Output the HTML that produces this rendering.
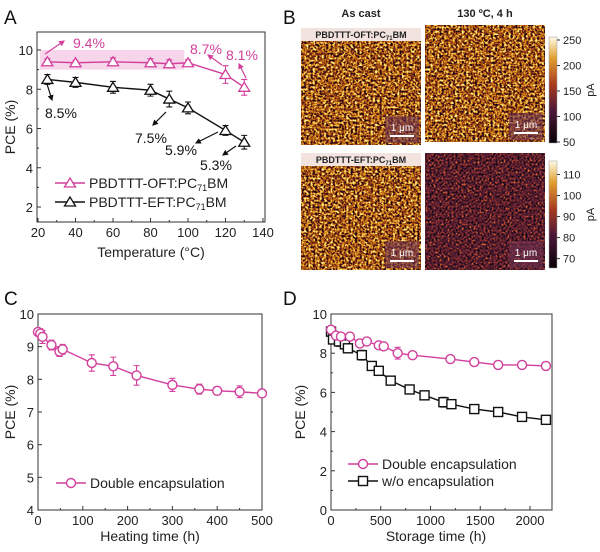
<!DOCTYPE html>
<html><head><meta charset="utf-8"><style>
body{margin:0;background:#fff}
svg{display:block;font-family:"Liberation Sans",Arial,sans-serif}
</style></head><body>
<svg id="fig" width="600" height="552" viewBox="0 0 600 552">
<defs>
<filter id="afmA" x="0" y="0" width="100%" height="100%" color-interpolation-filters="sRGB">
<feTurbulence type="fractalNoise" baseFrequency="0.45" numOctaves="2" seed="3"/>
<feColorMatrix type="matrix" values="0 0 0 0 0  0 0 0 0 0  0 0 0 0 0  0.33 0.33 0.33 0 0"/>
<feColorMatrix type="matrix" values="0 0 0 1 0  0 0 0 1 0  0 0 0 1 0  0 0 0 0 1"/>
<feComponentTransfer>
<feFuncR type="linear" slope="4" intercept="-1.5"/>
<feFuncG type="linear" slope="4" intercept="-1.5"/>
<feFuncB type="linear" slope="4" intercept="-1.5"/>
</feComponentTransfer>
<feComponentTransfer>
<feFuncR type="table" tableValues="0.08 0.3 0.6 0.8 0.92 1"/>
<feFuncG type="table" tableValues="0.02 0.08 0.25 0.48 0.72 0.95"/>
<feFuncB type="table" tableValues="0.08 0.1 0.08 0.08 0.2 0.6"/>
</feComponentTransfer>
</filter>
<filter id="afmB" x="0" y="0" width="100%" height="100%" color-interpolation-filters="sRGB">
<feTurbulence type="fractalNoise" baseFrequency="0.5" numOctaves="2" seed="7"/>
<feColorMatrix type="matrix" values="0 0 0 0 0  0 0 0 0 0  0 0 0 0 0  0.33 0.33 0.33 0 0"/>
<feColorMatrix type="matrix" values="0 0 0 1 0  0 0 0 1 0  0 0 0 1 0  0 0 0 0 1"/>
<feComponentTransfer>
<feFuncR type="linear" slope="4" intercept="-1.6"/>
<feFuncG type="linear" slope="4" intercept="-1.6"/>
<feFuncB type="linear" slope="4" intercept="-1.6"/>
</feComponentTransfer>
<feComponentTransfer>
<feFuncR type="table" tableValues="0.08 0.22 0.36 0.5 0.65 0.85"/>
<feFuncG type="table" tableValues="0.03 0.08 0.12 0.16 0.25 0.45"/>
<feFuncB type="table" tableValues="0.08 0.16 0.2 0.18 0.15 0.2"/>
</feComponentTransfer>
</filter>
<linearGradient id="cbar" x1="0" y1="1" x2="0" y2="0">
<stop offset="0" stop-color="#0a0208"/><stop offset="0.3" stop-color="#4a1838"/>
<stop offset="0.55" stop-color="#a83a20"/><stop offset="0.8" stop-color="#e0a030"/>
<stop offset="1" stop-color="#fffbe8"/></linearGradient>
<marker id="arP" viewBox="0 0 10 10" refX="8" refY="5" markerWidth="5" markerHeight="5" orient="auto"><path d="M0,0L10,5L0,10z" fill="#d23f9c"/></marker>
<marker id="arK" viewBox="0 0 10 10" refX="8" refY="5" markerWidth="5" markerHeight="5" orient="auto"><path d="M0,0L10,5L0,10z" fill="#111"/></marker>
</defs>
<g id="root"></g>
</svg>
<script>
// ---- Panel A data ----
const aTemps = [25, 40, 60, 80, 90, 100, 120, 130];
const aOFT = [9.4, 9.35, 9.4, 9.35, 9.3, 9.35, 8.75, 8.1];
const aOFTerr = [0.15, 0.1, 0.2, 0.2, 0.2, 0.15, 0.45, 0.4];
const aEFT = [8.5, 8.35, 8.1, 7.95, 7.5, 7.05, 5.9, 5.3];
const aEFTerr = [0.25, 0.25, 0.3, 0.3, 0.4, 0.3, 0.25, 0.35];
const aXTicks = [20, 40, 60, 80, 100, 120, 140];
const aYTicks = [2, 4, 6, 8, 10];
// ---- Panel C data ----
const cTimes = [0, 5, 10, 30, 48, 55, 120, 168, 220, 300, 360, 400, 450, 500];
const cPCE = [9.45, 9.4, 9.3, 9.05, 8.85, 8.92, 8.5, 8.4, 8.12, 7.83, 7.7, 7.65, 7.62, 7.57];
const cErr = [0.1, 0.15, 0.2, 0.15, 0.15, 0.15, 0.25, 0.28, 0.3, 0.2, 0.15, 0.12, 0.18, 0.12];
const cXTicks = [0, 100, 200, 300, 400, 500];
const cYTicks = [4, 5, 6, 7, 8, 9, 10];
// ---- Panel D data ----
const dTimesP = [0, 50, 100, 190, 290, 360, 480, 530, 670, 820, 1200, 1440, 1680, 1920, 2160];
const dPCEP = [9.2, 8.9, 8.85, 8.85, 8.5, 8.6, 8.4, 8.35, 8.0, 7.9, 7.7, 7.55, 7.4, 7.4, 7.35];
const dErrP = [0.15, 0.12, 0.1, 0.15, 0.1, 0.12, 0.1, 0.1, 0.3, 0.12, 0.15, 0.12, 0.2, 0.15, 0.2];
const dTimesK = [0, 20, 80, 140, 170, 310, 410, 480, 600, 790, 940, 1130, 1210, 1440, 1680, 1920, 2160];
const dPCEK = [9.1, 8.7, 8.6, 8.45, 8.25, 7.9, 7.35, 7.1, 6.6, 6.15, 5.85, 5.5, 5.4, 5.15, 5.0, 4.75, 4.6];
const dErrK = [0.25, 0.2, 0.25, 0.15, 0.12, 0.25, 0.1, 0.1, 0.1, 0.1, 0.1, 0.25, 0.1, 0.2, 0.1, 0.1, 0.1];
const dXTicks = [0, 500, 1000, 1500, 2000];
const dYTicks = [0, 2, 4, 6, 8, 10];

const NS = "http://www.w3.org/2000/svg";
const root = document.getElementById('root');
const PINK = "#d23f9c", BLK = "#111";
function mk(tag, attrs, parent, text) {
  const e = document.createElementNS(NS, tag);
  for (const k in attrs) e.setAttribute(k, attrs[k]);
  if (text !== undefined) e.textContent = text;
  (parent || root).appendChild(e);
  return e;
}
function lin(d0, d1, r0, r1) { return v => r0 + (v - d0) * (r1 - r0) / (d1 - d0); }

function axes(g, box, sx, sy, xt, yt, minorX, minorY) {
  const r = mk('rect', {x: box.l, y: box.t, width: box.r - box.l, height: box.b - box.t, fill: 'none', stroke: '#333', 'stroke-width': 1}, g);
  
  
  xt.forEach(v => {
    const x = sx(v);
    mk('line', {x1: x, x2: x, y1: box.b, y2: box.b - 4, stroke: '#333'}, g);
    const t = mk('text', {x: x, y: box.b + 15, 'text-anchor': 'middle', 'font-size': 13, fill: '#222'}, g, v);
    
    
  });
  minorX.forEach(v => mk('line', {x1: sx(v), x2: sx(v), y1: box.b, y2: box.b - 2, stroke: '#333'}, g));
  yt.forEach(v => {
    const y = sy(v);
    mk('line', {x1: box.l, x2: box.l + 4, y1: y, y2: y, stroke: '#333'}, g);
    const t = mk('text', {x: box.l - 4, y: y + 5, 'text-anchor': 'end', 'font-size': 13, fill: '#222'}, g, v);
    
    
  });
  minorY.forEach(v => mk('line', {x1: box.l, x2: box.l + 2, y1: sy(v), y2: sy(v), stroke: '#333'}, g));
}
function marker(g, kind, x, y, col) {
  let m;
  if (kind === 'tri') m = mk('path', {d: `M${x},${y-5}L${x+5.5},${y+4}L${x-5.5},${y+4}Z`, fill: '#fff', stroke: col, 'stroke-width': 1.3}, g);
  else if (kind === 'circ') m = mk('circle', {cx: x, cy: y, r: 4.5, fill: '#fff', stroke: col, 'stroke-width': 1.4}, g);
  else m = mk('rect', {x: x - 4.5, y: y - 4.5, width: 9, height: 9, fill: '#fff', stroke: col, 'stroke-width': 1.4}, g);
  
  
}
function series(g, xs, ys, es, sx, sy, col, kind, name) {
  const pts = xs.map((v, i) => sx(v) + ',' + sy(ys[i])).join(' ');
  const l = mk('polyline', {points: pts, fill: 'none', stroke: col, 'stroke-width': 1.4}, g);
  
  
  xs.forEach((v, i) => {
    const x = sx(v), y1 = sy(ys[i] + es[i]), y2 = sy(ys[i] - es[i]);
    const eb = mk('path', {d: `M${x},${y1}V${y2}M${x-3},${y1}H${x+3}M${x-3},${y2}H${x+3}`, stroke: col, 'stroke-width': 1.1, fill: 'none'}, g);
    
    
  });
  xs.forEach((v, i) => marker(g, kind, sx(v), sy(ys[i]), col));
}
function legend(g, x, y, col, kind, label, sub, rest) {
  const lg = mk('g', {}, g);
  
  
  mk('line', {x1: x, x2: x + 30, y1: y, y2: y, stroke: col, 'stroke-width': 1.4}, lg);
  marker(lg, kind, x + 15, y, col);
  const t = mk('text', {x: x + 34, y: y + 5, 'font-size': 14, fill: '#222'}, lg, label);
  if (sub) {
    mk('tspan', {'font-size': 9, dy: 3}, t, sub);
    mk('tspan', {dy: -3}, t, rest);
  }
}
function letter(x, y, s) {
  const t = mk('text', {x: x, y: y, 'font-size': 19, fill: '#111'}, root, s);
  
  
}
function ytitle(x, y, s) {
  const t = mk('text', {x: x, y: y, 'font-size': 14, fill: '#222', 'text-anchor': 'middle', transform: `rotate(-90 ${x} ${y})`}, root, s);
  
  
}
function xtitle(x, y, s) {
  const t = mk('text', {x: x, y: y, 'font-size': 14, fill: '#222', 'text-anchor': 'middle'}, root, s);
  
  
}

// ===== Panel A =====
(function () {
  const g = mk('g', {});  
  const box = {l: 37, r: 265, t: 32, b: 222};
  const sx = lin(20, 140, 38, 263), sy = lin(2, 10, 207, 50);
  mk('rect', {x: sx(21), y: sy(10), width: sx(98) - sx(21), height: sy(9) - sy(10), fill: '#f7d5ea'}, g);
  axes(g, box, sx, sy, aXTicks, aYTicks, [30, 50, 70, 90, 110, 130], [3, 5, 7, 9]);
  series(g, aTemps, aEFT, aEFTerr, sx, sy, BLK, 'tri', 'eft');
  series(g, aTemps, aOFT, aOFTerr, sx, sy, PINK, 'tri', 'oft');
  const ann = [
    [73, 48, '9.4%', PINK, 45, 54, 64, 41],
    [190, 54, '8.7%', PINK, 222, 65, 208, 55],
    [226, 60, '8.1%', PINK, 246, 78, 239, 64],
    [45, 118, '8.5%', BLK, 47, 84, 52, 100],
    [135, 143, '7.5%', BLK, 166, 112, 153, 125],
    [165, 155, '5.9%', BLK, 218, 132, 196, 143],
    [200, 170, '5.3%', BLK, 236, 146, 223, 155]
  ];
  ann.forEach(a => {
    const t = mk('text', {x: a[0], y: a[1], 'font-size': 14, fill: a[3]}, g, a[2]);
    
    
    mk('line', {x1: a[4], y1: a[5], x2: a[6], y2: a[7], stroke: a[3], 'stroke-width': 1.2, 'marker-end': a[3] === PINK ? 'url(#arP)' : 'url(#arK)'}, g);
  });
  legend(g, 55, 183, PINK, 'tri', 'PBDTTT-OFT:PC', '71', 'BM');
  legend(g, 55, 202, BLK, 'tri', 'PBDTTT-EFT:PC', '71', 'BM');
})();
letter(4, 24, 'A');
ytitle(15, 127, 'PCE (%)');
xtitle(151, 257, 'Temperature (°C)');

// ===== Panel B (AFM maps) =====
(function () {
  const g = mk('g', {});  
  const imgs = [[301, 28, 'afmA', 'as-cast-oft'], [425, 25, 'afmA', 'annealed-oft'], [301, 153, 'afmA', 'as-cast-eft'], [425, 153, 'afmB', 'annealed-eft']];
  imgs.forEach(d => {
    const r = mk('rect', {x: d[0], y: d[1], width: 120, height: 117, filter: `url(#${d[2]})`, fill: '#000'}, g);
    
    
    mk('rect', {x: d[0] + 84, y: d[1] + 88, width: 34, height: 27, fill: 'rgba(110,50,80,0.6)'}, g);
    mk('text', {x: d[0] + 101, y: d[1] + 103, 'font-size': 10, fill: '#fff', 'text-anchor': 'middle'}, g, '1 μm');
    mk('line', {x1: d[0] + 89, x2: d[0] + 113, y1: d[1] + 108, y2: d[1] + 108, stroke: '#fff', 'stroke-width': 2}, g);
  });
  [[301, 28, 'PBDTTT-OFT:PC'], [301, 153, 'PBDTTT-EFT:PC']].forEach(d => {
    mk('rect', {x: d[0], y: d[1], width: 120, height: 13, fill: '#f3e3df'}, g);
    const t = mk('text', {x: d[0] + 60, y: d[1] + 10, 'font-size': 9, 'font-weight': 'bold', fill: '#222', 'text-anchor': 'middle'}, g, d[2]);
    mk('tspan', {'font-size': 6, dy: 2}, t, '71');
    mk('tspan', {dy: -2}, t, 'BM');
    
    
  });
  const h1 = mk('text', {x: 361, y: 17, 'font-size': 11, 'font-weight': 'bold', fill: '#222', 'text-anchor': 'middle'}, g, 'As cast');
   
  const h2 = mk('text', {x: 485, y: 17, 'font-size': 11, 'font-weight': 'bold', fill: '#222', 'text-anchor': 'middle'}, g, '130 ºC, 4 h');
   
  const cb = [[37, 143, [250, 200, 150, 100, 50], 50, 250], [161, 268, [110, 100, 90, 80, 70], 66, 115]];
  cb.forEach(c => {
    const r = mk('rect', {x: 549, y: c[0], width: 8, height: c[1] - c[0], fill: 'url(#cbar)', stroke: '#999', 'stroke-width': 0.5}, g);
    
    
    const sy = lin(c[3], c[4], c[1] - 1, c[0] + 3);
    c[2].forEach(v => {
      mk('line', {x1: 557, x2: 560, y1: sy(v), y2: sy(v), stroke: '#333'}, g);
      mk('text', {x: 563, y: sy(v) + 4, 'font-size': 11, fill: '#222'}, g, v);
    });
    const my = (c[0] + c[1]) / 2;
    mk('text', {x: 594, y: my, 'font-size': 11, fill: '#222', 'text-anchor': 'middle', transform: `rotate(-90 594 ${my})`}, g, 'pA');
  });
})();
letter(283, 24, 'B');

// ===== Panel C =====
(function () {
  const g = mk('g', {});  
  const box = {l: 38, r: 262, t: 314, b: 510};
  const sx = lin(0, 500, 38, 262), sy = lin(4, 10, 510, 314);
  axes(g, box, sx, sy, cXTicks, cYTicks, [50, 150, 250, 350, 450], []);
  series(g, cTimes, cPCE, cErr, sx, sy, PINK, 'circ', 'double-encap');
  legend(g, 56, 483, PINK, 'circ', 'Double encapsulation');
})();
letter(4, 305, 'C');
ytitle(15, 412, 'PCE (%)');
xtitle(150, 541, 'Heating time (h)');

// ===== Panel D =====
(function () {
  const g = mk('g', {});  
  const box = {l: 331, r: 552, t: 314, b: 510};
  const sx = lin(0, 2000, 331, 530), sy = lin(0, 10, 510, 314);
  axes(g, box, sx, sy, dXTicks, dYTicks, [250, 750, 1250, 1750], [1, 3, 5, 7, 9]);
  series(g, dTimesK, dPCEK, dErrK, sx, sy, BLK, 'sq', 'no-encap');
  series(g, dTimesP, dPCEP, dErrP, sx, sy, PINK, 'circ', 'double-encap');
  legend(g, 348, 464, PINK, 'circ', 'Double encapsulation');
  legend(g, 348, 481, BLK, 'sq', 'w/o encapsulation');
})();
letter(283, 305, 'D');
ytitle(305, 412, 'PCE (%)');
xtitle(436, 541, 'Storage time (h)');
</script>
</body></html>
